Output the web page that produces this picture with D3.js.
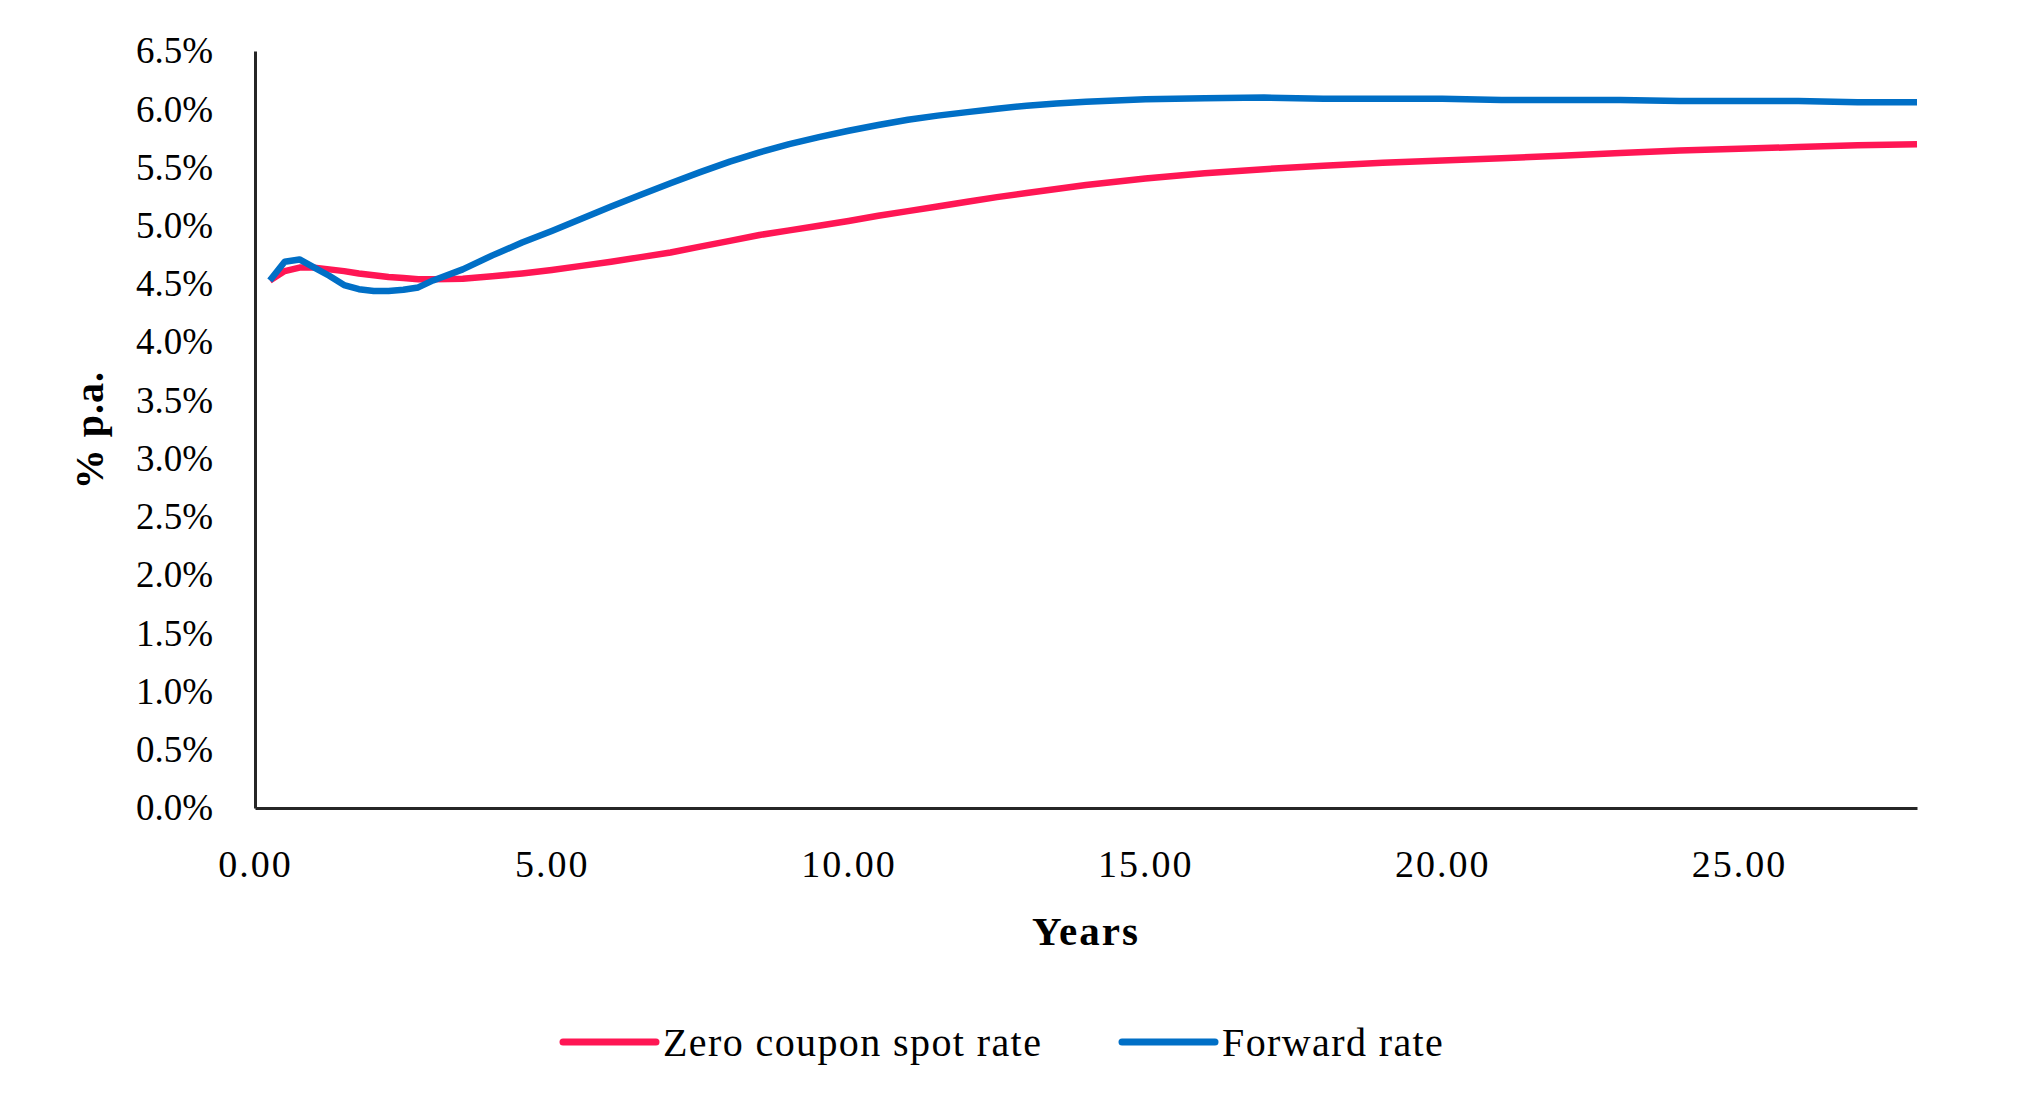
<!DOCTYPE html>
<html lang="en">

<head>
  <meta charset="UTF-8">
  <meta name="viewport" content="width=device-width, initial-scale=1.0">
  <script src="https://cdn.jsdelivr.net/npm/d3@7"></script>
  <title>Spot and forward rates</title>
  <style>
    body {
      margin: 0;
      background: #fff;
    }

    text {
      font-family: "Liberation Serif", "Times New Roman", serif;
      fill: #000;
    }

    .axis path {
      stroke: #262626;
      stroke-width: 3;
    }

    .rate {
      fill: none;
      stroke-width: 6.5;
      stroke-linejoin: round;
    }
  </style>
</head>

<body>

  <script>
    // values (years, % p.a.)
    const years = [0.25, 0.5, 0.75, 1, 1.25, 1.5, 1.75, 2, 2.25, 2.5, 2.75, 3, 3.5, 4, 4.5, 5, 5.5, 6, 6.5, 7,
      7.5, 8, 8.5, 9, 9.5, 10, 10.5, 11, 11.5, 12, 12.5, 13, 13.5, 14, 15, 16, 17, 18, 19, 20,
      21, 22, 23, 24, 25, 26, 27, 28];
    const spotRate = [4.53, 4.61, 4.64, 4.64, 4.625, 4.61, 4.59, 4.575, 4.56, 4.55, 4.54, 4.54, 4.545, 4.565, 4.59, 4.62, 4.655, 4.69, 4.73, 4.77,
      4.82, 4.87, 4.92, 4.96, 5.0, 5.04, 5.085, 5.125, 5.165, 5.205, 5.245, 5.28, 5.315, 5.35, 5.405, 5.45, 5.485, 5.515, 5.54, 5.56,
      5.58, 5.6, 5.625, 5.645, 5.66, 5.675, 5.69, 5.7];
    const forwardRate = [4.53, 4.69, 4.71, 4.64, 4.57, 4.49, 4.455, 4.44, 4.44, 4.45, 4.47, 4.53, 4.625, 4.745, 4.855, 4.955, 5.06, 5.165, 5.265, 5.365,
      5.46, 5.55, 5.63, 5.7, 5.76, 5.815, 5.865, 5.91, 5.945, 5.975, 6.005, 6.03, 6.05, 6.065, 6.085, 6.095, 6.1, 6.09, 6.09, 6.09,
      6.08, 6.08, 6.08, 6.07, 6.07, 6.07, 6.06, 6.06];
    const xTicks = [0, 5, 10, 15, 20, 25];
    const yTicks = [0, 0.5, 1, 1.5, 2, 2.5, 3, 3.5, 4, 4.5, 5, 5.5, 6, 6.5];
    const seriesNames = ["Zero coupon spot rate", "Forward rate"];
    const seriesColors = ["#ff1654", "#006fc6"];

    const width = 2018, height = 1119;
    const plotLeft = 255, plotRight = 1917, plotTop = 51, plotBottom = 808;

    const svg = d3.select('body').append('svg')
      .attr('width', width)
      .attr('height', height)

    const x = d3.scaleLinear().domain([0, 28]).range([plotLeft, plotRight]);
    const y = d3.scaleLinear().domain([0, 6.5]).range([plotBottom, plotTop]);

    /******************************** axes ********************************/
    const xAxis = svg.append('g').attr('class', 'axis')
      .attr('transform', `translate(0,${plotBottom})`)
      .call(d3.axisBottom(x).tickValues(xTicks).tickSize(0).tickFormat(d3.format('.2f')));
    xAxis.selectAll('text')
      .attr('y', 69).attr('dy', null)
      .style('font-size', '38px')
      .style('letter-spacing', '2px');

    const yAxis = svg.append('g').attr('class', 'axis')
      .attr('transform', `translate(${plotLeft},0)`)
      .call(d3.axisLeft(y).tickValues(yTicks).tickSize(0).tickPadding(42).tickFormat(d => d3.format('.1f')(d) + '%'));
    yAxis.selectAll('text')
      .style('font-size', '37px');

    svg.selectAll('.axis .domain').attr('fill', 'none');

    /******************************** lines ********************************/
    const line = d3.line()
      .x((d, i) => x(years[i]))
      .y(d => y(d));

    svg.selectAll('path.rate')
      .data([spotRate, forwardRate]).enter()
      .append('path').attr('class', 'rate')
      .attr('d', line)
      .attr('stroke', (d, i) => seriesColors[i]);

    /******************************** titles ********************************/
    svg.append('text')
      .attr('x', (plotLeft + plotRight) / 2).attr('y', 945)
      .attr('text-anchor', 'middle')
      .style('font-size', '41px').style('font-weight', 'bold').style('letter-spacing', '2px')
      .text('Years');

    svg.append('text')
      .attr('transform', 'translate(103,430) rotate(-90)')
      .attr('text-anchor', 'middle')
      .style('font-size', '40px').style('font-weight', 'bold').style('letter-spacing', '1px')
      .text('% p.a.');

    /******************************** legend ********************************/
    const legendX = [563, 1122];
    const lg = svg.selectAll('g.legend')
      .data(seriesNames).enter()
      .append('g').attr('class', 'legend')
      .attr('transform', (d, i) => `translate(${legendX[i]},1042)`);
    lg.append('line')
      .attr('x1', 0).attr('x2', 93)
      .attr('stroke', (d, i) => seriesColors[i])
      .attr('stroke-width', 7)
      .attr('stroke-linecap', 'round');
    lg.append('text')
      .attr('x', 100).attr('y', 14)
      .style('font-size', '40px').style('letter-spacing', '1.4px')
      .text(d => d);

  </script>
</body>

</html>
